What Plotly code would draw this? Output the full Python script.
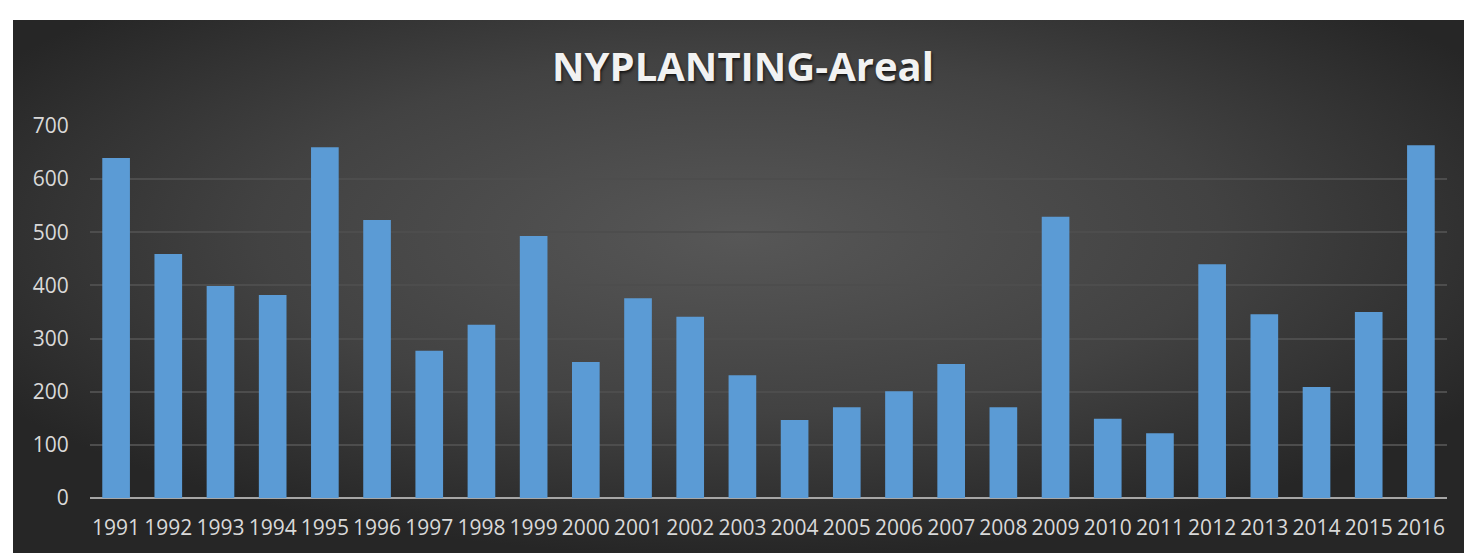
import urllib.parse
import plotly.graph_objects as go

years = ['1991', '1992', '1993', '1994', '1995', '1996', '1997', '1998', '1999',
         '2000', '2001', '2002', '2003', '2004', '2005', '2006', '2007', '2008',
         '2009', '2010', '2011', '2012', '2013', '2014', '2015', '2016']
areal = [640, 459, 399, 382, 660, 523, 277, 326, 493, 256, 376, 341, 231,
         147, 171, 201, 252, 171, 529, 149, 122, 440, 346, 209, 350, 664]
y_ticks = [0, 100, 200, 300, 400, 500, 600, 700]

W, H = 1464, 553
ML, MR, MT, MB = 90, 17, 126, 55
PW, PH = W - ML - MR, H - MT - MB

# dark radial background, Excel style
svg = (
    "<svg xmlns='http://www.w3.org/2000/svg' width='1451' height='533' preserveAspectRatio='none'>"
    "<defs><radialGradient id='g' cx='0.5' cy='0.4' r='0.6'>"
    "<stop offset='0' stop-color='#575757'/>"
    "<stop offset='0.55' stop-color='#424242'/>"
    "<stop offset='1' stop-color='#262626'/>"
    "</radialGradient></defs>"
    "<rect width='1451' height='533' fill='url(#g)'/></svg>"
)
bg_src = "data:image/svg+xml;charset=utf-8," + urllib.parse.quote(svg)

fig = go.Figure()
fig.add_trace(go.Bar(
    x=years, y=areal,
    marker=dict(color='#5b9bd5', line=dict(width=0)),
))

fig.add_layout_image(dict(
    source=bg_src, xref='paper', yref='paper',
    x=(13 - ML) / PW, y=(H - 20 - MB) / PH,
    sizex=(W - 13 + 4) / PW, sizey=(H - 20 + 4) / PH,
    xanchor='left', yanchor='top', sizing='stretch', layer='below',
))

# white page edge on the top and left of the dark chart box
fig.add_shape(type='rect', xref='paper', yref='paper', layer='below',
              x0=-ML / PW, x1=1 + MR / PW, y0=(H - 20 - MB) / PH, y1=1 + MT / PH,
              fillcolor='white', line=dict(width=0))
fig.add_shape(type='rect', xref='paper', yref='paper', layer='below',
              x0=-ML / PW, x1=(13 - ML) / PW, y0=-MB / PH, y1=1 + MT / PH,
              fillcolor='white', line=dict(width=0))

fig.update_layout(
    width=W, height=H,
    margin=dict(l=ML, r=MR, t=MT, b=MB),
    paper_bgcolor='#262626',
    plot_bgcolor='rgba(0,0,0,0)',
    bargap=0.47,
    showlegend=False,
    title=dict(
        text='NYPLANTING-Areal', x=743 / W, xanchor='center', y=1 - 67 / H, yanchor='middle',
        font=dict(family='Open Sans', size=40, color='#f2f2f2', weight='bold',
                  shadow='1px 2px 3px rgba(0,0,0,0.7)'),
    ),
    font=dict(family='Open Sans', size=21, color='#d9d9d9'),
    xaxis=dict(
        type='category', showgrid=False,
        ticks='outside', ticklen=11, tickcolor='rgba(0,0,0,0)',
        showline=False,
    ),
    yaxis=dict(
        range=[0, 700], tickvals=y_ticks,
        gridcolor='#4d4d4d', gridwidth=1.5,
        zeroline=True, zerolinecolor='#a6a6a6', zerolinewidth=2,
        ticks='outside', ticklen=16, tickcolor='rgba(0,0,0,0)',
    ),
)

# drop the default 8px page margin and any scrollbars
page_js = ("document.body.style.margin='0';"
           "document.body.style.overflow='hidden';"
           "document.documentElement.style.overflow='hidden';"
           "document.body.style.background='#262626';")
fig.write_html("out.html", config={'displayModeBar': False}, post_script=page_js)
